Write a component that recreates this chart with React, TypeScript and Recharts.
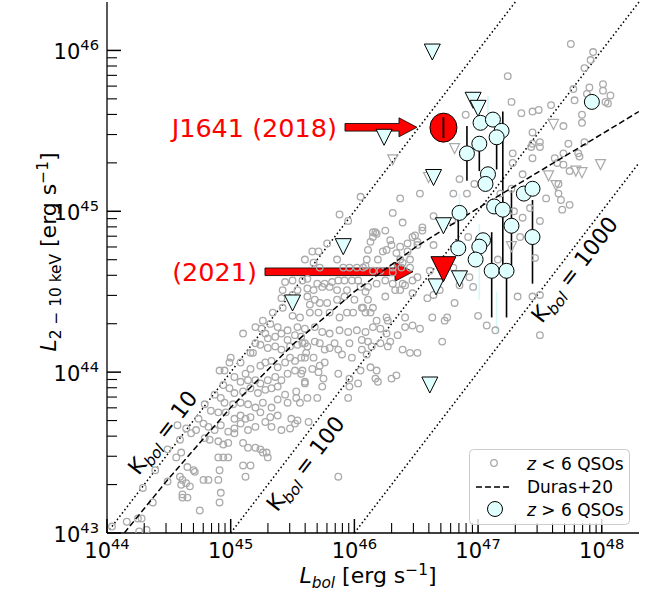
import React from 'react';
import { ComposedChart, Scatter, XAxis, YAxis, ErrorBar, ReferenceLine } from 'recharts';

// ---------------- data (log10 units: [log Lbol, log L2-10keV]) ----------------
const lowZQsos: [number, number][] = [
  [45.10,44.24],[45.20,44.18],[45.16,44.12],[45.18,44.12],[45.28,44.24],[45.30,44.21],[45.36,44.22],[45.41,44.24],
  [45.46,44.20],[45.52,44.23],[45.57,44.22],[45.60,44.18],[45.24,44.17],[45.30,44.15],[45.36,44.16],[45.41,44.14],
  [45.48,44.16],[45.54,44.17],[45.00,44.09],[44.99,44.06],[44.95,44.01],[44.91,44.01],[45.08,44.06],[45.12,43.99],
  [45.16,44.02],[45.24,44.04],[45.28,44.06],[45.33,44.07],[45.38,44.03],[45.44,44.06],[45.48,44.09],[45.52,44.07],
  [45.57,44.09],[45.61,44.12],[45.03,43.97],[45.08,43.94],[45.14,43.95],[45.20,43.95],[45.24,43.93],[45.30,43.95],
  [45.36,43.97],[45.41,43.95],[45.46,43.99],[45.52,44.01],[45.57,43.99],[45.60,43.93],[44.94,43.92],[44.99,43.90],
  [45.03,43.87],[45.10,43.88],[45.16,43.90],[45.22,43.87],[45.28,43.89],[45.33,43.90],[45.38,43.91],[45.44,43.86],
  [45.53,43.88],[44.87,43.86],[44.92,43.84],[44.95,43.81],[45.02,43.80],[45.08,43.81],[45.14,43.80],[45.20,43.78],
  [45.26,43.81],[45.33,43.78],[45.38,43.83],[45.46,43.81],[45.53,43.84],[45.56,43.81],[44.79,43.80],[44.84,43.76],
  [44.90,43.75],[44.96,43.75],[45.03,43.71],[45.08,43.73],[45.12,43.71],[45.16,43.72],[45.24,43.75],[45.32,43.72],
  [45.38,43.73],[45.49,43.71],[45.54,43.70],[44.74,43.71],[44.78,43.68],[44.82,43.66],[44.87,43.64],[44.92,43.67],
  [44.98,43.63],[45.03,43.65],[45.08,43.68],[45.14,43.64],[45.20,43.66],[45.28,43.69],[45.33,43.66],[45.41,43.64],
  [45.48,43.65],[45.52,43.68],[44.57,43.67],[44.64,43.65],[44.68,43.62],[44.72,43.64],[44.79,43.59],[44.83,43.58],
  [44.90,43.57],[44.94,43.55],[44.98,43.56],[45.03,43.62],[45.10,43.56],[45.14,43.53],[45.20,43.53],[45.24,43.52],
  [45.29,43.50],[45.30,43.47],[44.56,43.47],[44.60,43.50],[44.65,43.41],[44.70,43.39],[44.78,43.33],[44.90,43.47],
  [44.94,43.47],[44.98,43.47],[44.91,43.39],[45.10,43.42],[45.12,43.35],[45.16,43.42],[45.26,43.50],[44.59,43.35],
  [44.61,43.33],[44.60,43.30],[44.64,43.31],[44.67,43.29],[44.71,43.38],[44.61,43.24],[44.61,43.22],[44.65,43.22],
  [44.82,43.33],[44.90,43.33],[44.92,43.25],[44.91,43.19],[44.75,43.14],[44.49,43.32],[44.04,43.04],[44.16,43.07],
  [44.25,43.09],[44.28,43.09],[44.26,43.01],[44.32,43.02],[44.37,43.19],[44.29,43.28],[44.39,43.39],[44.49,43.52],
  [44.59,43.58],
  [46.05,45.09],[45.95,44.94],[45.88,44.98],[46.31,44.99],[46.37,45.08],[46.39,44.93],[46.15,44.87],[46.18,44.86],
  [46.25,44.88],[46.13,44.81],[46.11,44.76],[46.29,44.82],[46.30,44.79],[46.26,44.76],[46.23,44.75],[46.34,44.74],
  [46.43,44.75],[46.37,44.70],[46.45,44.70],[46.38,44.65],[45.78,44.80],[45.71,44.75],[45.66,44.75],[45.60,44.70],
  [45.67,44.68],[45.72,44.65],[45.86,44.70],[45.91,44.65],[45.96,44.65],[46.02,44.65],[46.07,44.65],[46.15,44.63],
  [46.21,44.63],[45.44,44.56],[45.50,44.57],[45.58,44.57],[45.62,44.58],[45.70,44.55],[45.76,44.55],[45.82,44.56],
  [45.87,44.57],[45.92,44.57],[45.98,44.57],[46.03,44.57],[45.42,44.51],[45.54,44.51],[45.62,44.52],[45.67,44.51],
  [45.74,44.53],[45.80,44.53],[45.86,44.51],[45.94,44.51],[46.05,44.53],[46.11,44.53],[46.18,44.55],[46.25,44.57],
  [46.31,44.55],[46.39,44.55],[45.41,44.46],[45.50,44.48],[45.62,44.47],[45.68,44.45],[45.64,44.42],[45.72,44.43],
  [45.78,44.43],[45.86,44.45],[45.92,44.47],[46.00,44.45],[46.07,44.40],[46.15,44.40],[46.25,44.47],[46.33,44.51],
  [45.26,44.32],[45.34,44.37],[45.42,44.40],[45.50,44.35],[45.56,44.34],[45.64,44.37],[45.71,44.37],[45.80,44.37],
  [45.88,44.34],[45.94,44.37],[45.99,44.37],[46.13,44.37],[46.18,44.32],[46.26,44.34],[45.20,44.28],[45.25,44.27],
  [45.32,44.30],[45.38,44.28],[45.46,44.26],[45.54,44.28],[45.60,44.27],[45.68,44.28],[45.74,44.25],[45.80,44.24],
  [45.88,44.26],[45.95,44.25],[46.02,44.26],[46.09,44.25],[46.15,44.28],[46.21,44.27],[46.26,44.24],[46.21,44.18],
  [46.27,44.16],[46.39,44.14],[46.05,44.01],[46.34,43.98],
  [46.35,44.23],[46.41,44.34],[46.47,44.29],[46.53,44.27],[46.63,44.34],[46.73,44.32],[46.71,44.19],[46.06,44.20],
  [46.11,44.19],[46.06,44.14],[46.10,44.11],[46.14,44.16],[46.29,44.19],[46.45,44.12],[46.51,44.12],[46.13,44.03],
  [46.18,44.01],[46.17,43.96],[46.19,43.94],[46.30,43.96],[45.96,43.96],[46.03,43.93],[45.96,43.91],[45.95,43.84],
  [45.98,44.09],[45.63,43.69],[45.58,44.18],[45.62,44.16],[45.68,44.19],[45.72,44.18],[45.76,44.14],[45.80,44.15],
  [45.84,44.18],[45.87,44.14],[45.90,44.11],[45.96,44.18],[45.60,44.09],[45.67,44.09],[45.72,44.04],[45.76,44.06],
  [45.66,44.02],[45.58,44.01],[45.71,44.00],[45.75,43.96],[45.74,43.91],[45.60,43.94],[45.70,43.84],[45.62,43.84],
  [45.87,43.99],[45.87,43.35],
  [46.90,45.60],[46.85,45.20],[46.80,45.11],[46.91,45.11],[46.97,45.17],[46.53,45.11],[46.64,44.97],[46.17,44.87],
  [46.15,44.84],[46.37,44.78],[46.43,44.80],[46.49,44.85],[46.55,44.88],[46.51,44.81],[46.19,44.70],[46.10,44.70],
  [46.09,44.66],[46.31,44.65],[46.39,44.68],[46.45,44.65],[46.51,44.59],[46.61,44.63],[46.09,44.50],[46.11,44.45],
  [46.37,44.51],[46.47,44.49],[46.59,44.46],[46.69,44.51],[46.81,44.43],[47.00,44.35],[46.06,44.40],[46.09,44.37],
  [46.92,44.84],[46.55,44.90],[46.47,44.84],[46.51,44.79],[46.64,44.79],[46.79,44.94],[46.80,44.65],[46.85,44.54],
  [46.93,44.59],[46.96,44.53],[47.16,44.70],[47.36,44.96],[47.46,44.71],[47.50,44.94],[47.44,44.47],[47.50,44.48],
  [47.32,44.47],[46.31,44.62],[46.41,44.54],[46.47,44.57],[46.64,44.48],[46.75,44.34],[46.41,44.28],[46.27,44.32],
  [47.07,44.29],[47.14,44.26],[47.50,44.23],
  [47.75,46.04],[47.93,45.99],[47.91,45.94],[47.86,45.89],[47.77,45.76],[47.78,45.69],[47.88,45.73],[47.90,45.77],
  [48.01,45.79],[48.01,45.75],[48.07,45.72],[48.03,45.68],[48.05,45.67],[47.24,45.84],[47.27,45.68],[47.35,45.61],
  [47.44,45.62],[47.49,45.63],[47.59,45.66],[47.84,45.60],[47.84,45.55],[47.69,45.53],[47.44,45.49],[47.44,45.42],
  [47.50,45.43],[47.50,45.40],[47.44,45.33],[47.28,45.36],[47.28,45.30],[47.73,45.42],[47.86,45.43],[47.81,45.36],
  [47.82,45.34],[47.62,45.33],[47.69,45.36],[47.64,45.30],[47.74,45.25],[47.36,45.23],[47.65,45.17],[47.65,45.11],
  [47.67,45.07],[47.55,45.08],[47.68,45.01],[47.74,45.04],[47.27,45.14],[47.42,45.02],[47.29,45.00],[47.34,44.84],
  [47.18,45.11],[47.69,45.29],[47.43,45.40],
];

const lowZLimits: [number, number][] = [
  [46.81,45.39],[46.31,45.32],[46.60,45.21],[47.61,45.54],[47.57,45.22],
  [47.79,45.25],[47.84,45.24],[47.99,45.29],[47.63,45.16],[47.27,44.78],
];

const highZQsos: [number, number][] = [
  [47.92,45.68],[47.02,45.55],[47.12,45.57],[47.19,45.50],[47.15,45.46],[47.01,45.42],[46.91,45.36],
  [47.08,45.23],[47.06,45.17],[47.37,45.11],[47.44,45.14],[47.13,45.03],[47.20,45.01],[46.85,44.99],
  [47.27,44.91],[47.44,44.84],[47.04,44.82],[47.01,44.78],[46.84,44.77],[46.98,44.70],[47.11,44.63],[47.23,44.63],
];

// [log Lbol, log LX, err down, err up]
const highZErrors: [number, number, number, number][] = [
  [46.91,45.36,0.17,0.17],[47.01,45.42,0.17,0.0],[47.15,45.46,0.20,0.15],[47.20,45.01,0.38,0.61],
  [47.23,44.63,0.29,0.0],[47.11,44.63,0.29,0.24],[47.44,44.84,0.29,0.23],[47.27,44.91,0.27,0.22],
  [46.84,44.77,0.0,0.22],
];

// faint (light-cyan) error bars
const highZFaintErrors: [number, number, number, number][] = [
  [47.01,44.78,0.33,0.14],[46.85,44.99,0.0,0.12],[47.15,44.50,0.25,0.0],[47.08,45.60,0.0,0.12],
];

const highZLimits: [number, number][] = [
  [46.63,45.99],[46.96,45.69],[47.00,45.64],[46.24,45.46],[46.64,45.21],[46.72,44.91],
  [45.91,44.78],[45.50,44.43],[46.66,44.53],[46.85,44.58],[46.61,43.92],
];

const j1641_2018: [number, number, number] = [46.72, 45.52, 0.065];
const j1641_2021: [number, number] = [46.72, 44.64];

// Duras+20 bolometric correction curve
const durasCurve: [number, number][] = [
  [44.14,43.0],[44.5,43.34],[45.0,43.78],[45.5,44.17],[46.0,44.5],
  [46.5,44.78],[47.0,45.02],[47.5,45.25],[48.0,45.48],[48.30,45.62],
];

// constant K_bol lines
const kbolLines: { label: string; from: [number, number]; to: [number, number] }[] = [
  { label: '10', from: [44, 43], to: [47.301, 46.301] },
  { label: '100', from: [45, 43], to: [48.301, 46.301] },
  { label: '1000', from: [46, 43], to: [48.301, 45.301] },
];

// annotation arrows: label, tail, tip
const arrows: { label: string; tail: [number, number]; tip: [number, number] }[] = [
  { label: 'J1641 (2018)', tail: [45.924, 45.522], tip: [46.506, 45.522] },
  { label: '(2021)', tail: [45.277, 44.624], tip: [46.474, 44.624] },
];

const xDomain: [number, number] = [44, 48.30103];
const yDomain: [number, number] = [43, 46.30103];
const xMajor = [44, 45, 46, 47, 48];
const yMajor = [43, 44, 45, 46];

// ---------------- layout ----------------
const W = 656, H = 596;
const LEFT = 107, TOP = 2, RIGHT = 639, BOTTOM = 533;
const FONT = 'DejaVu Sans';

const withMinor = (majors: number[], max: number) => {
  const out: number[] = [];
  majors.forEach((m) => {
    out.push(m);
    for (let k = 2; k <= 9; k++) {
      const v = m + Math.log10(k);
      if (v < max - 1e-4) out.push(v);
    }
  });
  return out;
};
const xTicks = withMinor(xMajor, xDomain[1]);
const yTicks = withMinor(yMajor, yDomain[1]);
const isMajor = (v: number) => Math.abs(v - Math.round(v)) < 1e-6;

const MAJ = 14, MIN = 10;

const BottomTick = (p: any) => {
  const v = p.payload.value; const x = p.x; const m = isMajor(v);
  return (
    <g>
      <line x1={x} x2={x} y1={BOTTOM} y2={BOTTOM - (m ? MAJ : MIN)} stroke="#000" strokeWidth={m ? 1.5 : 1.1} />
      {m && (
        <text x={x} y={558} textAnchor="middle" fontFamily={FONT} fontSize={21} fill="#000">
          10<tspan dy={-9} fontSize={14.7}>{Math.round(v)}</tspan>
        </text>
      )}
    </g>
  );
};
const TopTick = (p: any) => {
  const x = p.x;
  return <line x1={x} x2={x} y1={TOP} y2={TOP + MAJ} stroke="#000" strokeWidth={1.5} />;
};
const LeftTick = (p: any) => {
  const v = p.payload.value; const y = p.y; const m = isMajor(v);
  return (
    <g>
      <line x1={LEFT} x2={LEFT + (m ? MAJ : MIN)} y1={y} y2={y} stroke="#000" strokeWidth={m ? 1.5 : 1.1} />
      {m && (
        <text x={99} y={y + 9} textAnchor="end" fontFamily={FONT} fontSize={21} fill="#000">
          10<tspan dy={-9} fontSize={14.7}>{Math.round(v)}</tspan>
        </text>
      )}
    </g>
  );
};
const RightTick = (p: any) => {
  const v = p.payload.value; const y = p.y; const m = isMajor(v);
  return <line x1={RIGHT} x2={RIGHT - (m ? MAJ : MIN)} y1={y} y2={y} stroke="#000" strokeWidth={m ? 1.5 : 1.1} />;
};

const grayCircle = (p: any) => (
  <circle cx={p.cx} cy={p.cy} r={3.3} fill="none" stroke="#aaaaaa" strokeWidth={1.3} />
);
const tri = (cx: number, cy: number, h: number) => `${cx},${cy + h} ${cx - h},${cy - h} ${cx + h},${cy - h}`;
const grayTri = (p: any) => (
  <polygon points={tri(p.cx, p.cy, 5)} fill="none" stroke="#aaaaaa" strokeWidth={1.2} />
);
const cyanCircle = (p: any) => (
  <circle cx={p.cx} cy={p.cy} r={7.5} fill="#e0ffff" stroke="#000" strokeWidth={1} />
);
const cyanTri = (p: any) => (
  <polygon points={tri(p.cx, p.cy, 8)} fill="#e0ffff" stroke="#000" strokeWidth={1} />
);
const redCircle = (p: any) => (
  <ellipse cx={p.cx} cy={p.cy} rx={13.5} ry={14.5} fill="#ff0000" stroke="#000" strokeWidth={1} />
);
const redTri = (p: any) => (
  <polygon points={tri(p.cx, p.cy, 12.5)} fill="#ff0000" stroke="#000" strokeWidth={1} />
);
const nothing = () => <g />;

const arrowShape = (label: string) => (p: any) => {
  const { x1, y1, x2 } = p;
  const y = y1;
  const hw = 3.8, hh = 9.5, hl = 18;
  const xb = x2 - hl;
  const pts = `${x1},${y - hw} ${xb},${y - hw} ${xb},${y - hh} ${x2},${y} ${xb},${y + hh} ${xb},${y + hw} ${x1},${y + hw}`;
  return (
    <g>
      <polygon points={pts} fill="#ff0000" stroke="#000" strokeWidth={0.8} />
      <text x={x1 - 8} y={y + 9.5} textAnchor="end" fontFamily={FONT} fontSize={25.5} fill="#ff0000">{label}</text>
    </g>
  );
};

const toXY = (a: [number, number][]) => a.map(([x, y]) => ({ x, y }));

export default function App() {
  const grayData = toXY(lowZQsos);
  const grayLimData = toXY(lowZLimits);
  const cyanData = toXY(highZQsos);
  const cyanLimData = toXY(highZLimits);
  const errData = highZErrors.map(([x, y, d, u]) => ({ x, y, err: [d, u] }));
  const faintErrData = highZFaintErrors.map(([x, y, d, u]) => ({ x, y, err: [d, u] }));
  const redData = [{ x: j1641_2018[0], y: j1641_2018[1] }];
  const redBarData = [
    { x: j1641_2018[0], y: j1641_2018[1] - j1641_2018[2] },
    { x: j1641_2018[0], y: j1641_2018[1] + j1641_2018[2] },
  ];
  const redTriData = [{ x: j1641_2021[0], y: j1641_2021[1] }];
  const durasData = toXY(durasCurve);

  const kLabelPos = [
    { k: '10', cx: 163, cy: 433 },
    { k: '100', cx: 306, cy: 464 },
    { k: '1000', cx: 575, cy: 270 },
  ];

  return (
    <div style={{ position: 'absolute', left: 0, top: 0, width: W, height: H, background: '#fff' }}>
      <ComposedChart
        width={W}
        height={H}
        margin={{ top: TOP, right: W - RIGHT, bottom: H - BOTTOM - 40, left: LEFT - 60 }}
        style={{ fontFamily: FONT }}
      >
        <XAxis xAxisId="b" type="number" dataKey="x" domain={xDomain} allowDataOverflow ticks={xTicks} interval={0}
          tick={<BottomTick />} tickLine={false} axisLine={{ stroke: '#000', strokeWidth: 1.3 }} height={40} />
        <XAxis xAxisId="t" orientation="top" type="number" dataKey="x" domain={xDomain} allowDataOverflow ticks={xMajor} interval={0}
          tick={<TopTick />} tickLine={false} axisLine={{ stroke: '#000', strokeWidth: 1.3 }} height={0} />
        <YAxis yAxisId="l" type="number" dataKey="y" domain={yDomain} allowDataOverflow ticks={yTicks} interval={0}
          tick={<LeftTick />} tickLine={false} axisLine={{ stroke: '#000', strokeWidth: 1.3 }} width={60} />
        <YAxis yAxisId="r" orientation="right" type="number" dataKey="y" domain={yDomain} allowDataOverflow ticks={yTicks} interval={0}
          tick={<RightTick />} tickLine={false} axisLine={{ stroke: '#000', strokeWidth: 1.3 }} width={0} />

        <Scatter xAxisId="b" yAxisId="l" data={grayData} shape={grayCircle} isAnimationActive={false} />
        <Scatter xAxisId="b" yAxisId="l" data={grayLimData} shape={grayTri} isAnimationActive={false} />

        {kbolLines.map((l) => (
          <ReferenceLine key={l.label} xAxisId="b" yAxisId="l" ifOverflow="visible"
            segment={[{ x: l.from[0], y: l.from[1] }, { x: l.to[0], y: l.to[1] }]}
            stroke="#000" strokeWidth={1.5} strokeDasharray="1.5 2.6" />
        ))}

        <Scatter xAxisId="b" yAxisId="l" data={durasData} shape={nothing} isAnimationActive={false}
          line={{ stroke: '#000', strokeWidth: 1.5, strokeDasharray: '6 3' }} lineType="joint" />

        <Scatter xAxisId="b" yAxisId="l" data={faintErrData} shape={nothing} isAnimationActive={false}>
          <ErrorBar dataKey="err" direction="y" width={0} stroke="#d4f7f7" strokeWidth={1.6} isAnimationActive={false} />
        </Scatter>
        <Scatter xAxisId="b" yAxisId="l" data={errData} shape={nothing} isAnimationActive={false}>
          <ErrorBar dataKey="err" direction="y" width={0} stroke="#000" strokeWidth={1.6} isAnimationActive={false} />
        </Scatter>
        <Scatter xAxisId="b" yAxisId="l" data={cyanLimData} shape={cyanTri} isAnimationActive={false} />
        <Scatter xAxisId="b" yAxisId="l" data={cyanData} shape={cyanCircle} isAnimationActive={false} />

        <Scatter xAxisId="b" yAxisId="l" data={redData} shape={redCircle} isAnimationActive={false} />
        <Scatter xAxisId="b" yAxisId="l" data={redBarData} shape={nothing} isAnimationActive={false}
          line={{ stroke: '#000', strokeWidth: 1.8 }} lineType="joint" />
        <Scatter xAxisId="b" yAxisId="l" data={redTriData} shape={redTri} isAnimationActive={false} />

        {arrows.map((a) => (
          <ReferenceLine key={a.label} xAxisId="b" yAxisId="l" ifOverflow="visible"
            segment={[{ x: a.tail[0], y: a.tail[1] }, { x: a.tip[0], y: a.tip[1] }]}
            shape={arrowShape(a.label)} />
        ))}
      </ComposedChart>

      <svg width={W} height={H} style={{ position: 'absolute', left: 0, top: 0, pointerEvents: 'none' }} fontFamily={FONT}>
        {kLabelPos.map((k) => (
          <text key={k.k} transform={`translate(${k.cx},${k.cy}) rotate(-52.5)`} textAnchor="middle" fontSize={22} fill="#000">
            <tspan dy={7}>K</tspan>
            <tspan fontStyle="italic" fontSize={15.4} dy={5}>bol</tspan>
            <tspan dy={-5}> = {k.k}</tspan>
          </text>
        ))}

        <text x={368} y={583} textAnchor="middle" fontSize={22} fill="#000">
          <tspan fontStyle="italic">L</tspan>
          <tspan fontStyle="italic" fontSize={15.4} dy={5}>bol</tspan>
          <tspan dy={-5}> [erg s</tspan>
          <tspan fontSize={15.4} dy={-8}>−1</tspan>
          <tspan dy={8}>]</tspan>
        </text>

        <text transform="translate(56,252) rotate(-90)" textAnchor="middle" fontSize={22} fill="#000">
          <tspan fontStyle="italic">L</tspan>
          <tspan fontSize={15.4} dy={5}>2 − 10 keV</tspan>
          <tspan dy={-5}> [erg s</tspan>
          <tspan fontSize={15.4} dy={-8}>−1</tspan>
          <tspan dy={8}>]</tspan>
        </text>

        <g>
          <rect x={469.5} y={449.5} width={160} height={75} rx={4} fill="#fff" fillOpacity={0.8} stroke="#cccccc" strokeWidth={1} />
          <circle cx={494} cy={463} r={3.3} fill="none" stroke="#aaaaaa" strokeWidth={1.3} />
          <text x={527} y={469.5} fontSize={17} fill="#000"><tspan fontStyle="italic">z</tspan> &lt; 6 QSOs</text>
          <line x1={476} x2={512} y1={487} y2={487} stroke="#000" strokeWidth={1.5} strokeDasharray="6 3" />
          <text x={527} y={493} fontSize={17} fill="#000">Duras+20</text>
          <circle cx={495} cy={509} r={7.5} fill="#e0ffff" stroke="#000" strokeWidth={1} />
          <text x={527} y={516} fontSize={17} fill="#000"><tspan fontStyle="italic">z</tspan> &gt; 6 QSOs</text>
        </g>
      </svg>
    </div>
  );
}
